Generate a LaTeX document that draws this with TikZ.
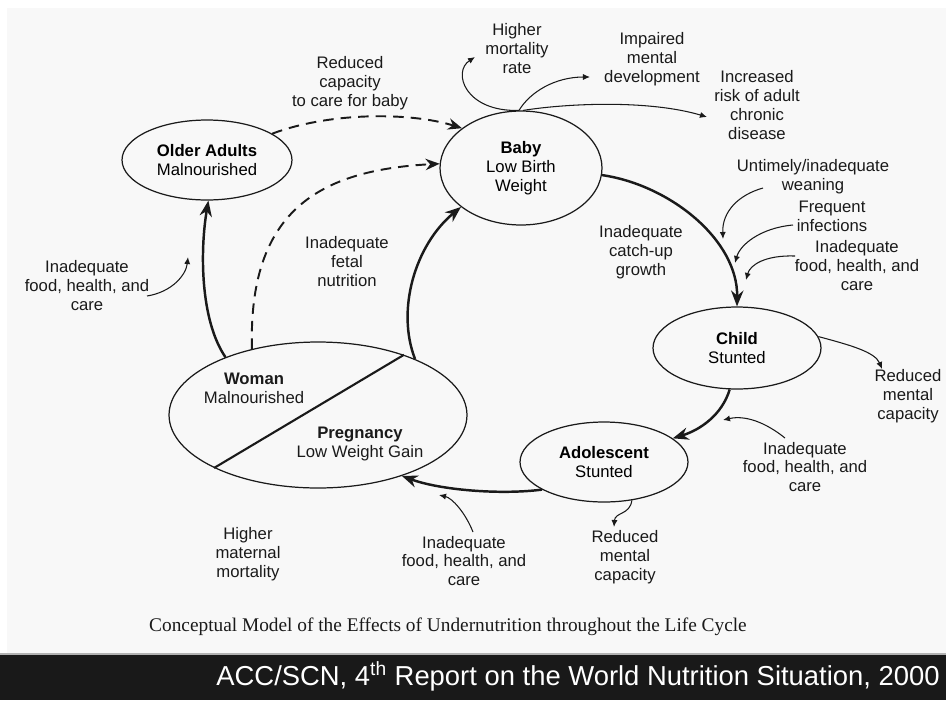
\documentclass[tikz,border=0pt]{standalone}
\usepackage{fontspec}
\setmainfont{Liberation Serif}
\setsansfont{Liberation Sans}
\usetikzlibrary{arrows.meta,shapes.geometric}
\definecolor{paper}{HTML}{F8F8F8}
\definecolor{ink}{HTML}{1A1A1A}

\begin{document}
\begin{tikzpicture}[x=0.02cm,y=-0.02cm,
  font=\sffamily\fontsize{9.5}{10.8}\selectfont,
  stage/.style={ellipse,draw=ink,line width=0.7pt,align=center,inner sep=0pt},
  lbl/.style={align=center,text=ink,inner sep=1pt},
  cycle/.style={-{Stealth[length=9pt,width=7pt]},ink,line width=1.4pt},
  link/.style={-{Stealth[length=8pt,width=6.5pt]},ink,line width=1.1pt,dash pattern=on 6pt off 4pt},
  effect/.style={-{Latex[length=4pt,width=3.5pt]},ink,line width=0.6pt}]
  % page, caption band
  \fill[white] (0,0) rectangle (946,700);
  \useasboundingbox (0,0) rectangle (946,700);
  \fill[paper] (7,8) rectangle (946,655);
  \fill[black!90] (0,654) rectangle (946,700);
  \draw[gray!60,line width=0.6pt] (0,654) -- (946,654);

  % life-cycle stages
  \node[stage,minimum width=3.4cm,minimum height=1.6cm] (oldad) at (207,160) {\textbf{Older Adults}\\Malnourished};
  \node[stage,minimum width=3.24cm,minimum height=2.28cm] (baby) at (521,168) {\textbf{Baby}\\Low Birth\\Weight};
  \node[stage,minimum width=3.36cm,minimum height=1.64cm] (child) at (737,348) {\textbf{Child}\\Stunted};
  \node[stage,minimum width=3.36cm,minimum height=1.6cm] (adol) at (604,462) {\textbf{Adolescent}\\Stunted};
  \node[stage,minimum width=5.96cm,minimum height=2.92cm] (woman) at (318,415) {};
  \draw[ink,line width=1.2pt] (woman.207.7) -- (woman.35.7);
  \node[lbl] (womtxt) at (254,388) {\textbf{Woman}\\Malnourished};
  \node[lbl] (pregtxt) at (360,444) {\textbf{Pregnancy}\\Low Weight Gain};

  % labels
  \node[lbl] (carecap) at (350,83) {Reduced\\capacity\\to care for baby};
  \node[lbl] (fetal) at (347,262) {Inadequate\\fetal\\nutrition};
  \node[lbl] (foodA) at (87,286) {Inadequate\\food, health, and\\care};
  \node[lbl] (mort) at (517,49) {Higher\\mortality\\rate};
  \node[lbl] (mental) at (652,59) {Impaired\\mental\\development};
  \node[lbl] (chronic) at (757,105) {Increased\\risk of adult\\chronic\\disease};
  \node[lbl] (wean) at (813,177) {Untimely/inadequate\\weaning};
  \node[lbl] (infect) at (832,216) {Frequent\\infections};
  \node[lbl] (foodB) at (857,266) {Inadequate\\food, health, and\\care};
  \node[lbl] (catchup) at (641,252) {Inadequate\\catch-up\\growth};
  \node[lbl] (mentalC) at (908,396) {Reduced\\mental\\capacity};
  \node[lbl] (foodC) at (805,467) {Inadequate\\food, health, and\\care};
  \node[lbl] (mentalA) at (625,557) {Reduced\\mental\\capacity};
  \node[lbl] (foodD) at (464,561) {Inadequate\\food, health, and\\care};
  \node[lbl] (matmort) at (248,554) {Higher\\maternal\\mortality};

  % free ends of the small arrows
  \coordinate (fA) at (147,296);  \coordinate (tA) at (188,257);
  \coordinate (tmort) at (475,57);
  \coordinate (tmental) at (590,77);
  \coordinate (tchronic) at (707,117);
  \coordinate (fwean) at (763,188); \coordinate (twean) at (723,239);
  \coordinate (finf) at (793,225);  \coordinate (tinf) at (735,263);
  \coordinate (fB) at (795,256);    \coordinate (tB) at (746,280);
  \coordinate (tmentalC) at (882,369);
  \coordinate (fC) at (785,438);    \coordinate (tC) at (723,420);
  \coordinate (tmentalA) at (614,527);
  \coordinate (fD) at (473,532);    \coordinate (tD) at (439,495);

  % main cycle
  \draw[link] (oldad.22) .. controls (330,112) and (410,112) .. (baby.146);
  \draw[link] (woman.135) .. controls (248,210) and (320,170) .. (baby.177);
  \draw[cycle] (woman.148) .. controls (200,320) and (200,250) .. (oldad.-88);
  \draw[cycle] (woman.30) .. controls (396,310) and (415,245) .. (baby.213);
  \draw[cycle] (baby.-5) .. controls (670,185) and (738,240) .. (child.90);
  \draw[cycle] (child.-100) .. controls (722,415) and (700,430) .. (adol.19);
  \draw[cycle] (adol.204) .. controls (500,495) and (440,490) .. (woman.-36);

  % effects and causes
  \draw[effect] (fA) .. controls (172,292) and (186,275) .. (tA);
  \draw[effect] (baby.92) .. controls (465,112) and (452,72) .. (tmort);
  \draw[effect] (baby.92) .. controls (530,92) and (555,77) .. (tmental);
  \draw[effect] (baby.88) .. controls (570,103) and (650,100) .. (tchronic);
  \draw[effect] (fwean) .. controls (738,195) and (722,212) .. (twean);
  \draw[effect] (finf) .. controls (760,228) and (740,245) .. (tinf);
  \draw[effect] (fB) .. controls (765,255) and (750,265) .. (tB);
  \draw[effect] (child.8) .. controls (850,345) and (875,352) .. (tmentalC);
  \draw[effect] (fC) .. controls (765,422) and (745,415) .. (tC);
  \draw[effect] (adol.-54) .. controls (630,515) and (615,512) .. (tmentalA);
  \draw[effect] (fD) .. controls (465,512) and (452,498) .. (tD);

  % caption and source
  \node[font=\rmfamily\fontsize{11}{13}\selectfont,text=ink] (caption) at (448,627) {Conceptual Model of the Effects of Undernutrition throughout the Life Cycle};
  \node[anchor=base east,font=\sffamily\fontsize{15.6}{18}\selectfont,text=white,inner sep=0pt] (source) at (940,685) {ACC/SCN, 4\textsuperscript{th} Report on the World Nutrition Situation, 2000};
\end{tikzpicture}
\end{document}
